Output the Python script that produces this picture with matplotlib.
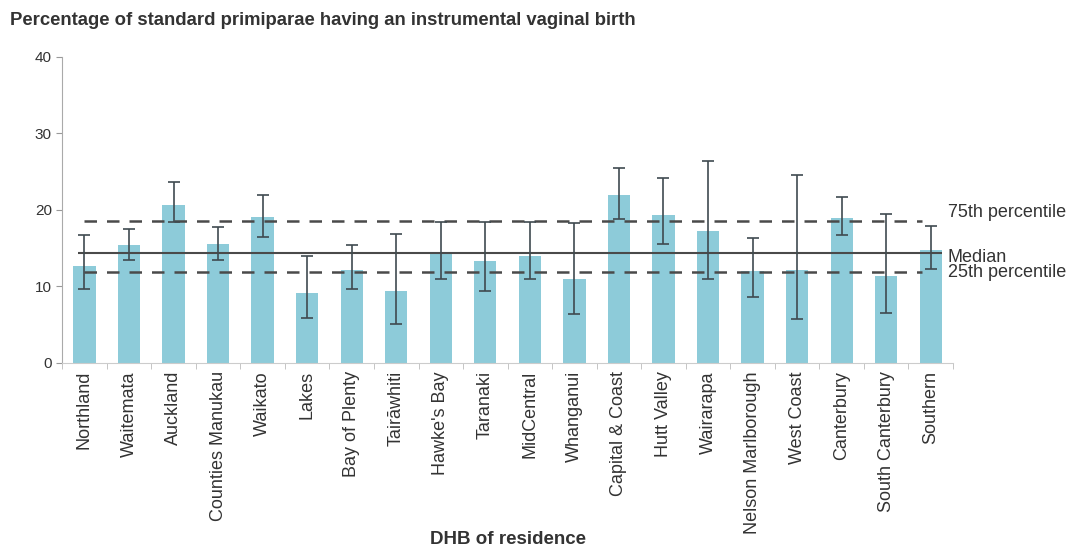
import matplotlib
matplotlib.use("Agg")
import matplotlib.pyplot as plt
import numpy as np

plt.rcParams['font.family'] = ['Liberation Sans', 'DejaVu Sans']

categories = ["Northland", "Waitemata", "Auckland", "Counties Manukau", "Waikato",
              "Lakes", "Bay of Plenty", "Tairāwhiti", "Hawke's Bay", "Taranaki",
              "MidCentral", "Whanganui", "Capital & Coast", "Hutt Valley", "Wairarapa",
              "Nelson Marlborough", "West Coast", "Canterbury", "South Canterbury", "Southern"]
values = [12.6, 15.4, 20.7, 15.6, 19.1, 9.1, 12.1, 9.4, 14.2, 13.3,
          14.0, 11.0, 21.9, 19.3, 17.3, 12.0, 12.2, 18.9, 11.3, 14.7]
ci_upper = [16.7, 17.5, 23.7, 17.7, 22.0, 14.0, 15.4, 16.9, 18.4, 18.4,
            18.4, 18.3, 25.5, 24.2, 26.4, 16.3, 24.5, 21.7, 19.4, 17.9]
ci_lower = [9.7, 13.4, 18.4, 13.5, 16.5, 5.9, 9.6, 5.1, 11.0, 9.4,
            11.0, 6.4, 18.8, 15.5, 11.0, 8.6, 5.7, 16.7, 6.5, 12.3]
p75 = 18.5
median = 14.3
p25 = 11.9

fig = plt.figure(figsize=(10.72, 5.48), dpi=100)
ax = fig.add_axes([0.058, 0.338, 0.831, 0.558])

x = np.arange(len(categories))
vals = np.array(values)
yerr = np.vstack([vals - np.array(ci_lower), np.array(ci_upper) - vals])
ax.bar(x, vals, width=0.5, color='#8DCBD9', zorder=2)
ax.errorbar(x, vals, yerr=yerr, fmt='none', ecolor='#3F4A50', elinewidth=1.2,
            capsize=4, capthick=1.2, zorder=4)

n = len(categories)
ax.hlines(p75, 0, n - 1.2, color='#4a4a4a', lw=1.8, linestyles=(0, (5, 4)), zorder=3)
ax.hlines(median, -0.15, n - 0.75, color='#4a4a4a', lw=1.5, zorder=3)
ax.hlines(p25, 0, n - 1.2, color='#4a4a4a', lw=1.8, linestyles=(0, (5, 4)), zorder=3)

ax.set_xlim(-0.5, n - 0.5)
ax.set_ylim(0, 40)
ax.set_yticks([0, 10, 20, 30, 40])
ax.tick_params(axis='y', labelsize=11, colors='#333333', length=4, color='#999999')
ax.set_xticks(x)
ax.set_xticklabels(categories, rotation=90, fontsize=13, color='#333333')
ax.tick_params(axis='x', length=0, pad=6)
ax.set_xticks(np.arange(n + 1) - 0.5, minor=True)
ax.tick_params(axis='x', which='minor', length=4, color='#bbbbbb')

for s in ['top', 'right']:
    ax.spines[s].set_visible(False)
ax.spines['left'].set_color('#aaaaaa')
ax.spines['bottom'].set_color('#cccccc')

tr = ax.get_yaxis_transform()
ax.text(0.994, p75 + 1.2, "75th percentile", transform=tr,
        va='center', ha='left', fontsize=13, color='#333333')
ax.text(0.994, median - 0.5, "Median", transform=tr,
        va='center', ha='left', fontsize=13, color='#333333')
ax.text(0.994, p25 - 0.1, "25th percentile", transform=tr,
        va='center', ha='left', fontsize=13, color='#333333')

fig.text(0.009, 0.963, "Percentage of standard primiparae having an instrumental vaginal birth",
         fontsize=13.3, fontweight='bold', color='#333333', va='center', ha='left')
fig.text(0.474, 0.015, "DHB of residence", fontsize=13.5, fontweight='bold',
         color='#333333', ha='center', va='center')

fig.savefig("out.png", dpi=100)
